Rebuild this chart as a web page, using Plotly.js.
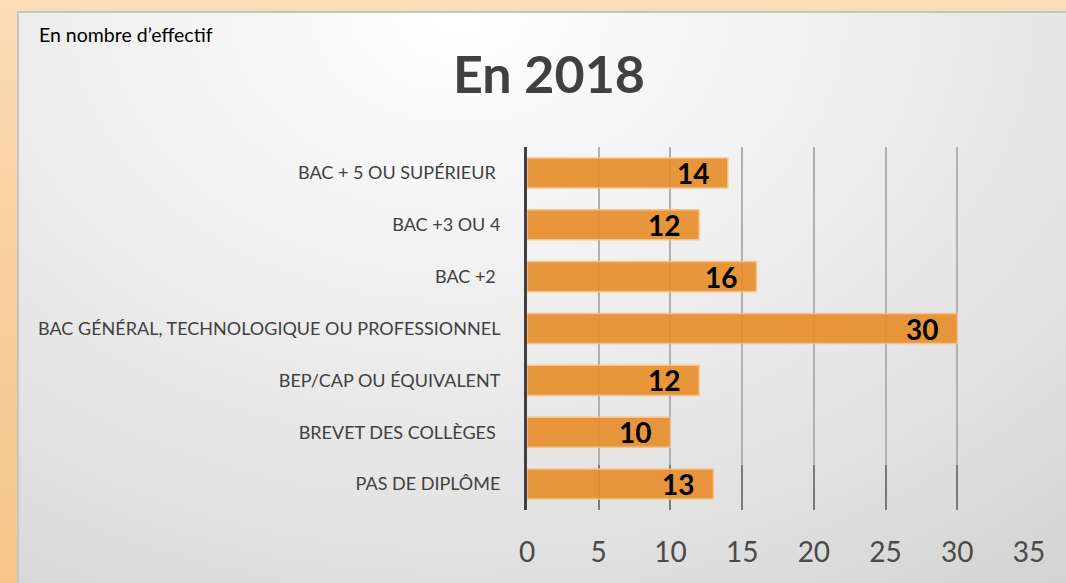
<!DOCTYPE html>
<html>
<head>
<meta charset="utf-8">
<script src="https://cdn.plot.ly/plotly-3.0.1.min.js"></script>
<style>
  html, body { margin: 0; padding: 0; }
  #wrap { position: relative; width: 1066px; height: 583px; overflow: hidden;
          background: linear-gradient(180deg, #fbdcb6 0%, #f7cc98 60%, #f5c58c 100%); }
  #panel { position: absolute; left: 17px; top: 11px; width: 1049px; height: 572px;
           box-sizing: border-box; border-left: 2px solid #c4c4c4; border-top: 2px solid #c4c4c4;
           background: radial-gradient(ellipse 95% 130% at 42% 0%, #ffffff 0%, #f1f1f1 35%, #e2e2e2 70%, #d2d2d2 100%); }
  #chart { position: absolute; left: 0; top: 0; width: 1066px; height: 583px; }
</style>
</head>
<body>
<div id="wrap">
  <div id="panel"></div>
  <div id="chart"></div>
</div>
<script>
const categories = [
  "BAC + 5 OU SUPÉRIEUR ",
  "BAC +3 OU 4",
  "BAC +2 ",
  "BAC GÉNÉRAL, TECHNOLOGIQUE OU PROFESSIONNEL",
  "BEP/CAP OU ÉQUIVALENT",
  "BREVET DES COLLÈGES ",
  "PAS DE DIPLÔME"
];
const values = [14, 12, 16, 30, 12, 10, 13];
const xTicks = [0, 5, 10, 15, 20, 25, 30, 35];
const chartTitle = "En 2018";
const unitNote = "En nombre d’effectif";

const FONT = "Lato, 'Open Sans', sans-serif";

const trace = {
  type: "bar",
  orientation: "h",
  y: categories,
  x: values,
  marker: { color: "#e88f2c", opacity: 0.92, line: { color: "#f6c08a", width: 1.5 } },
  hoverinfo: "none"
};

const pw = 1066 - 527 - 37, ph = 583 - 147 - 73;

const annotations = values.map((v, i) => ({
  x: v, y: categories[i], xref: "x", yref: "y",
  text: String(v), showarrow: false,
  xanchor: "right", yanchor: "middle", xshift: -17, yshift: 0,
  font: { family: FONT, size: 28, color: "#000000", weight: "bold" }
}));
annotations.push({
  text: unitNote, xref: "paper", yref: "paper", showarrow: false,
  x: (37 - 527) / pw, y: (583 - 73 - 34) / ph, xanchor: "left", yanchor: "middle",
  font: { family: FONT, size: 19.5, color: "#000000" }
});

const tickAxis = (len, color) => ({
  overlaying: "x", anchor: "y", side: "bottom",
  range: [0, 35], tickvals: xTicks, showticklabels: false,
  showgrid: false, zeroline: false, showline: false,
  ticks: "inside", ticklen: len, tickwidth: 2, tickcolor: color,
  fixedrange: true
});

const layout = {
  width: 1066, height: 583,
  margin: { l: 527, r: 37, t: 147, b: 73 },
  paper_bgcolor: "rgba(0,0,0,0)",
  plot_bgcolor: "rgba(0,0,0,0)",
  showlegend: false,
  bargap: 0.42,
  title: {
    text: "<b>" + chartTitle + "</b>",
    x: 549 / 1066, xanchor: "center", xref: "container",
    y: 1 - 75 / 583, yanchor: "middle", yref: "container",
    font: { family: FONT, size: 52, color: "#404040" }
  },
  xaxis: {
    range: [0, 35],
    tickvals: xTicks,
    ticktext: xTicks.map(String),
    showgrid: true, gridcolor: "#b0b0b0", gridwidth: 2,
    zeroline: false, showline: false,
    ticks: "inside", ticklen: 45, tickwidth: 2, tickcolor: "#7a7a7a",
    ticklabelstandoff: 23,
    layer: "below traces",
    tickfont: { family: FONT, size: 28, color: "#4a4a4a" },
    fixedrange: true
  },
  xaxis2: tickAxis(26, "#4a4a4a"),
  xaxis3: tickAxis(12, "#222222"),
  yaxis: {
    autorange: "reversed",
    showgrid: false, zeroline: false,
    showline: true, linecolor: "#404040", linewidth: 3,
    ticks: "", ticklabelstandoff: 20,
    tickfont: { family: FONT, size: 18, color: "#404040" },
    fixedrange: true
  },
  annotations: annotations
};

Plotly.newPlot("chart", [trace], layout, { displayModeBar: false, staticPlot: true });
</script>
</body>
</html>
